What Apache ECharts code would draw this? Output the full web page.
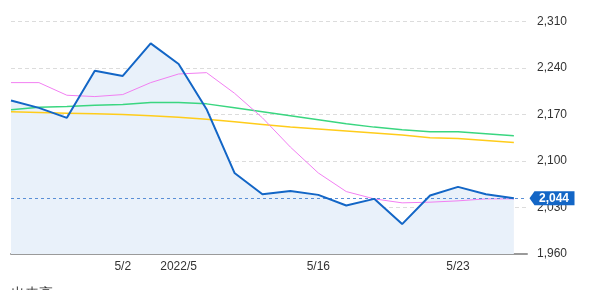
<!DOCTYPE html>
<html><head><meta charset="utf-8">
<script src="https://cdn.jsdelivr.net/npm/echarts@6/dist/echarts.min.js"></script>
<style>html,body{margin:0;padding:0;background:#fff}#c{width:598px;height:290px}</style>
</head><body><div id="c"></div>
<script>
const dates = ['4/25','4/26','4/27','4/28','5/2','5/6','5/9','5/10','5/11','5/12','5/13','5/16','5/17','5/18','5/19','5/20','5/23','5/24','5/25'];
const tickIndex = [4, 6, 11, 16];
const tickText = ['5/2', '2022/5', '5/16', '5/23'];
const yTicks = [1960, 2030, 2100, 2170, 2240, 2310];
const closeVals = [2191, 2180, 2165, 2236, 2228, 2277, 2246, 2178, 2082, 2050, 2055, 2049, 2033, 2043, 2005, 2048, 2061, 2050, 2044];
const maShort = [2218, 2218, 2199, 2197, 2200, 2218, 2231, 2233, 2202, 2165, 2121, 2082, 2054, 2043, 2037, 2038, 2040, 2043, 2043];
const maMid = [2177, 2181, 2182, 2184, 2185, 2188, 2188, 2186, 2180, 2174, 2168, 2162, 2156, 2151, 2147, 2144, 2144, 2141, 2138];
const maLong = [2174, 2173, 2172, 2171, 2170, 2168, 2166, 2163, 2159, 2155, 2151, 2148, 2145, 2142, 2139, 2135, 2134, 2131, 2128];
const lastPrice = 2044;
const volumeTitle = '出来高';

const toPairs = a => a.map((v, i) => [i, v]);
const fmt = v => v.toLocaleString('en-US');
const font = "'Liberation Sans', Arial, sans-serif";
const xMax = 18.47;

const chart = echarts.init(document.getElementById('c'), null, {renderer: 'canvas'});
chart.setOption({
  animation: false,
  title: {text: volumeTitle, left: 11, top: 287, padding: 0, textStyle: {fontSize: 14, lineHeight: 14, fontWeight: 'normal', color: '#333', fontFamily: font}},
  grid: {left: 11, right: 71, top: 21.5, bottom: 36},
  xAxis: {
    type: 'value', min: 0, max: xMax, interval: 1,
    axisLine: {show: true, lineStyle: {color: '#9a9a9a', width: 2}},
    axisTick: {show: false},
    splitLine: {show: false},
    axisLabel: {
      color: '#333', fontSize: 12, fontFamily: font, margin: 7,
      showMaxLabel: false, showMinLabel: true,
      formatter: v => { const k = tickIndex.indexOf(Math.round(v)); return (k >= 0 && Math.abs(v - Math.round(v)) < 1e-6) ? tickText[k] : ''; }
    }
  },
  yAxis: {
    type: 'value', position: 'right', min: yTicks[0], max: yTicks[yTicks.length - 1], interval: 70,
    axisLine: {show: false}, axisTick: {show: false},
    splitLine: {show: true, lineStyle: {color: '#dcdcdc', type: [4, 3], width: 1}},
    axisLabel: {color: '#333', fontSize: 12, fontFamily: font, margin: 10, formatter: v => fmt(v)}
  },
  series: [
    {type: 'line', name: 'area', data: toPairs(closeVals), symbol: 'none', lineStyle: {width: 0},
     areaStyle: {color: '#e9f1fa', opacity: 1}, z: 1, silent: true},
    {type: 'line', data: toPairs(maLong), symbol: 'none', lineStyle: {color: '#ffcc1a', width: 1.5}, z: 3},
    {type: 'line', data: toPairs(maMid), symbol: 'none', lineStyle: {color: '#3ad680', width: 1.5}, z: 3},
    {type: 'line', data: toPairs(maShort), symbol: 'none', lineStyle: {color: '#f27ff2', width: 1}, z: 3},
    {type: 'line', data: toPairs(closeVals), symbol: 'none', lineStyle: {color: '#1366c6', width: 2}, z: 5,
     markLine: {
       silent: true, symbol: 'none',
       lineStyle: {color: '#5a8fd6', type: [3, 3], width: 1},
       label: {show: false},
       data: [{yAxis: lastPrice}]
     },
     markPoint: {
       silent: true,
       data: [{coord: [xMax, lastPrice], value: lastPrice}],
       symbol: 'path://M0,6.5 L5,0 L45,0 L45,13 L5,13 Z',
       symbolSize: [45, 14], symbolKeepAspect: false, symbolOffset: [25, 0],
       itemStyle: {color: '#1366c6'},
       label: {show: true, position: 'inside', offset: [2, 0], color: '#fff', fontSize: 12, fontWeight: 'bold', fontFamily: font,
               formatter: p => fmt(p.value)}
     }
    }
  ]
});
</script>
</body></html>
